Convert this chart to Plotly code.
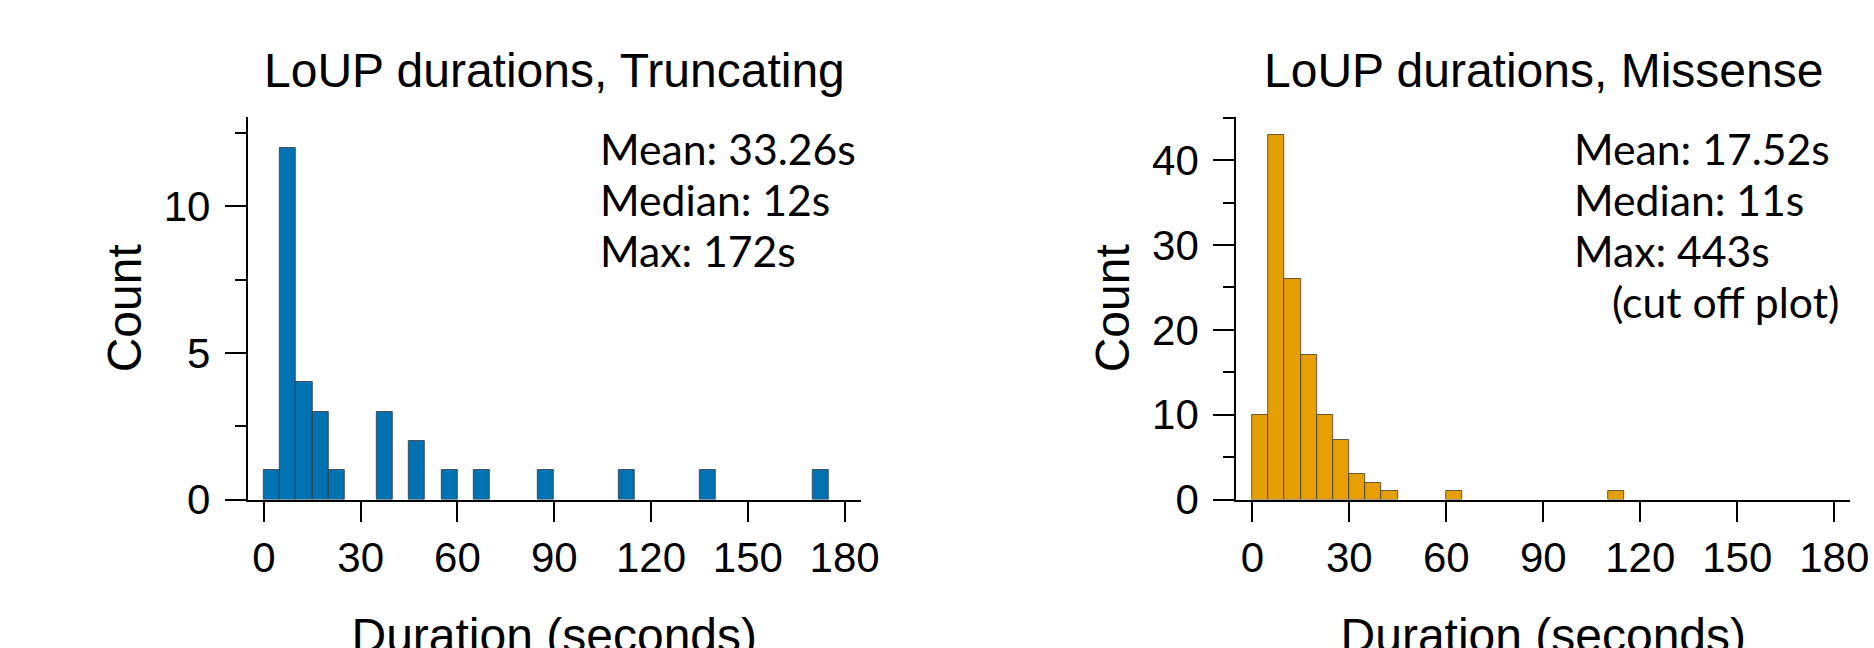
import plotly.graph_objects as go

# ---------------- data ----------------
bin_width = 5
trunc_bin_starts = [0, 5, 10, 15, 20, 35, 45, 55, 65, 85, 110, 135, 170]
trunc_counts = [1, 12, 4, 3, 1, 3, 2, 1, 1, 1, 1, 1, 1]

miss_bin_starts = [0, 5, 10, 15, 20, 25, 30, 35, 40, 60, 110]
miss_counts = [10, 43, 26, 17, 10, 7, 3, 2, 1, 1, 1]

x_ticks = [0, 30, 60, 90, 120, 150, 180]
trunc_stats = ["Mean: 33.26s", "Median: 12s", "Max: 172s"]
miss_stats = ["Mean: 17.52s", "Median: 11s", "Max: 443s"]
miss_note = "(cut off plot)"

titles = ["LoUP durations, Truncating", "LoUP durations, Missense"]
x_title = "Duration (seconds)"
y_title = "Count"

BLUE = "#0072B2"
ORANGE = "#E69F00"

# figure is slightly taller than the 648px window so the x-axis titles
# get cut at the bottom edge, as in the reference
W, H = 1874, 662
ARIAL = "Liberation Sans, Arial, sans-serif"
LATO = "Lato, sans-serif"

fig = go.Figure()
fig.add_trace(go.Bar(
    x=trunc_bin_starts, y=trunc_counts, width=bin_width, offset=0,
    marker=dict(color=BLUE, line=dict(color="rgba(50,50,50,0.75)", width=1)),
    xaxis="x", yaxis="y", showlegend=False))
fig.add_trace(go.Bar(
    x=miss_bin_starts, y=miss_counts, width=bin_width, offset=0,
    marker=dict(color=ORANGE, line=dict(color="rgba(50,50,50,0.75)", width=1)),
    xaxis="x2", yaxis="y2", showlegend=False))

dom1 = [247.8 / W, 860.7 / W]
dom2 = [1236.2 / W, 1850.4 / W]
ydom = [1 - 499.5 / H, 1 - 117.0 / H]


def xaxis_cfg(anchor, dom):
    return dict(
        domain=dom, anchor=anchor, range=[-5, 185],
        tickvals=x_ticks, ticks="outside", ticklen=20, tickwidth=2, tickcolor="black",
        showline=True, linewidth=2, linecolor="black",
        showgrid=False, zeroline=False, automargin=False,
        tickfont=dict(family=ARIAL, size=42, color="black"),
        title=dict(text=x_title, font=dict(family=ARIAL, size=48, color="black"), standoff=46),
    )


def yaxis_cfg(anchor, rng, dtick):
    return dict(
        domain=ydom, anchor=anchor, range=rng,
        tick0=0, dtick=dtick, ticks="outside", ticklen=21, tickwidth=2, tickcolor="black",
        minor=dict(ticks="outside", ticklen=11, tickwidth=2, tickcolor="black",
                   dtick=dtick / 2, tick0=0, showgrid=False),
        showline=True, linewidth=2, linecolor="black",
        showgrid=False, zeroline=False, automargin=False,
        ticklabelstandoff=6,
        tickfont=dict(family=ARIAL, size=42, color="black"),
        title=dict(text=y_title, font=dict(family=ARIAL, size=48, color="black"), standoff=7),
    )


annotations = []
# subplot titles
for dom, t in zip([dom1, dom2], titles):
    annotations.append(dict(
        text=t, xref="paper", yref="paper", x=(dom[0] + dom[1]) / 2, y=1 - 70.7 / H,
        xanchor="center", yanchor="middle", showarrow=False,
        font=dict(family=ARIAL, size=48, color="black")))

ANN_SIZE = 42.7
line_centers = [149, 199.5, 250, 301]
for i, s in enumerate(trunc_stats):
    annotations.append(dict(
        text=s, xref="x", yref="paper", x=103.5, y=1 - line_centers[i] / H,
        xanchor="left", yanchor="middle", showarrow=False,
        font=dict(family=LATO, size=ANN_SIZE, color="black")))
for i, s in enumerate(miss_stats):
    annotations.append(dict(
        text=s, xref="x2", yref="paper", x=99, y=1 - line_centers[i] / H,
        xanchor="left", yanchor="middle", showarrow=False,
        font=dict(family=LATO, size=ANN_SIZE, color="black")))
annotations.append(dict(
    text=miss_note, xref="x2", yref="paper", x=110.7, y=1 - line_centers[3] / H,
    xanchor="left", yanchor="middle", showarrow=False,
    font=dict(family=LATO, size=ANN_SIZE, color="black")))

fig.update_layout(
    width=W, height=H,
    margin=dict(l=0, r=0, t=0, b=0),
    paper_bgcolor="white", plot_bgcolor="white",
    xaxis=xaxis_cfg("y", dom1),
    yaxis=yaxis_cfg("x", [0, 13.05], 5),
    xaxis2=xaxis_cfg("y2", dom2),
    yaxis2=yaxis_cfg("x2", [0, 45.1], 10),
    bargap=0,
    annotations=annotations,
)

fig.write_html(
    "out.html",
    config={"displayModeBar": False},
    post_script="document.body.style.margin='0';document.body.style.overflow='hidden';",
)
